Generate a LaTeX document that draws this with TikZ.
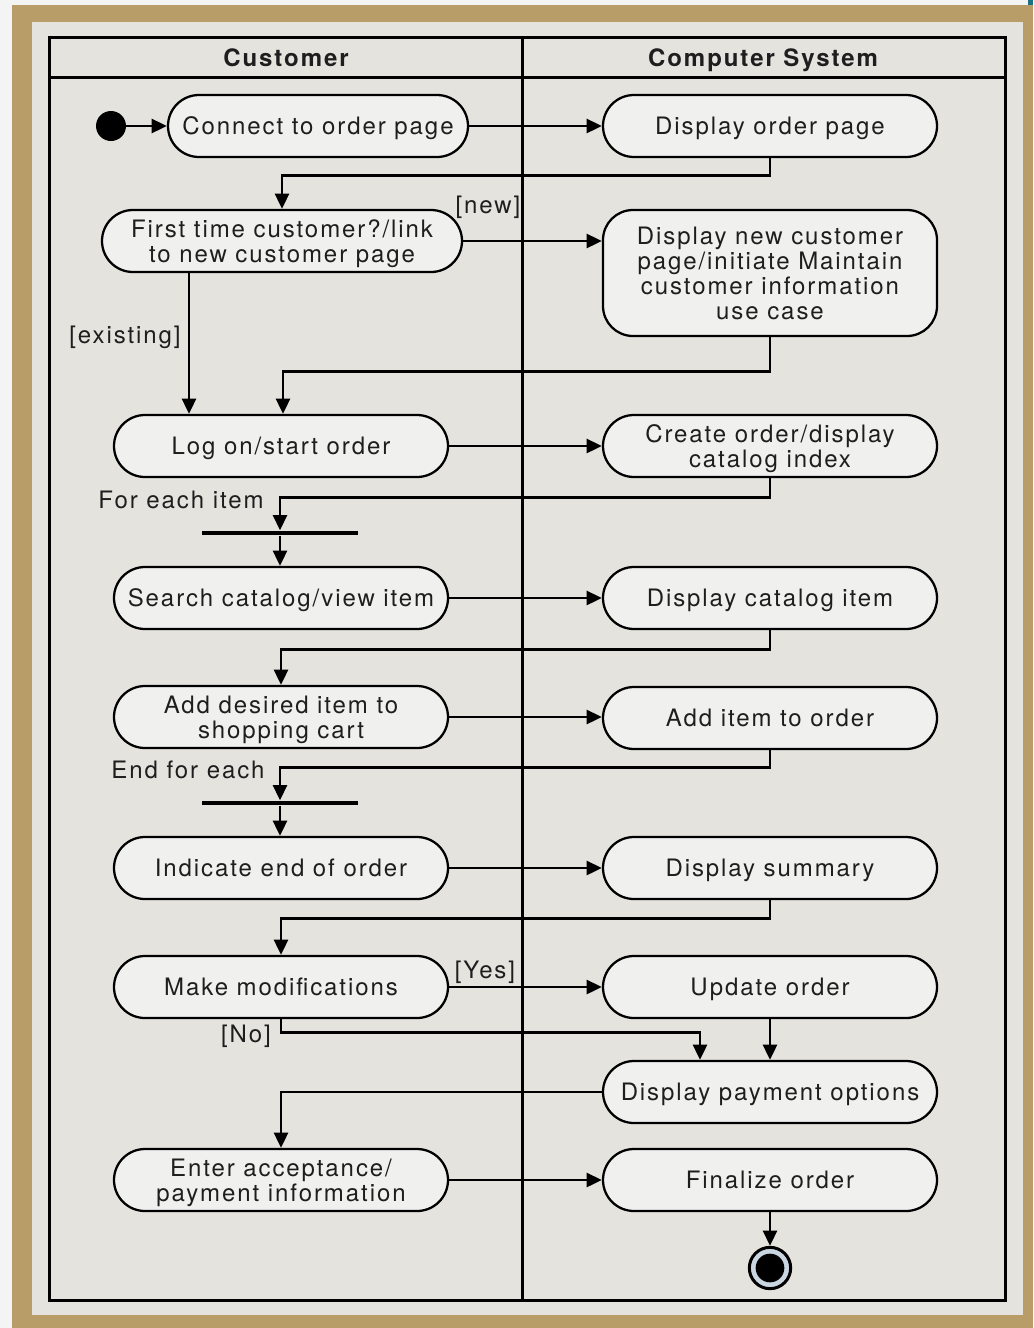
\documentclass[tikz,border=0pt]{standalone}
\usepackage{fontspec}
\setmainfont{TeX Gyre Heros}[LetterSpace=8]
\usetikzlibrary{arrows.meta,calc}

\definecolor{gold}{HTML}{B99D68}
\definecolor{paper}{HTML}{E5E3DE}
\definecolor{boxfill}{HTML}{F0F0EF}
\definecolor{ringblue}{HTML}{C9D6E2}
\definecolor{cornermark}{HTML}{1A6F80}
\definecolor{edgewhite}{HTML}{F4F4F4}
\definecolor{ink}{HTML}{1E1E1E}

\begin{document}
\begin{tikzpicture}[x=0.75pt,y=-0.75pt,
  txt/.style={font=\fontsize{18}{18.75}\selectfont, text=ink, text depth=0pt},
  act/.style={txt, draw, line width=1.7pt, fill=boxfill, rounded corners=23.25pt,
    minimum width=250.5pt, minimum height=46.5pt, align=center, inner sep=0pt},
  tallact/.style={act, minimum height=94.5pt, rounded corners=22.5pt},
  flow/.style={line width=2.2pt, -{Triangle[length=11.5pt,width=10.5pt]}},
  lbl/.style={txt, inner sep=0pt},
  lane/.style={line width=2.25pt},
  bar/.style={fill=black, minimum width=117pt, minimum height=3.6pt, inner sep=0pt},
  head/.style={font=\bfseries\fontsize{18}{18.75}\selectfont, text=ink, text depth=0pt, inner sep=0pt}]

% page, gold mount and swimlane frame
\useasboundingbox (0,0) rectangle (1033,1328);
\fill[edgewhite] (0,0) rectangle (1033,1328);
\fill[gold] (12,5) rectangle (1033,1328);
\fill[paper] (32,22) rectangle (1023,1315);
\fill[cornermark] (1028,0) rectangle (1033,5);
\draw[lane] (49,37) rectangle (1005,1300);
\draw[lane] (49,77) -- (1005,77);
\draw[lane] (522,37) -- (522,1300);

\node[head] (hcust) at (286,58) {Customer};
\node[head] (hsys) at (763,58) {Computer System};

% customer lane
\node[circle, fill=black, minimum size=22.5pt, inner sep=0pt] (start) at (111,126) {};
\node[act, minimum width=225pt] (connect) at (318,126) {Connect to order page};
\node[act, minimum width=270pt] (first) at (282,241) {First time customer?/link\\to new customer page};
\node[act] (logon) at (281,446) {Log on/start order};
\node[bar] (bar1) at (280,533) {};
\node[act] (search) at (281,598) {Search catalog/view item};
\node[act] (adddes) at (281,717) {Add desired item to\\shopping cart};
\node[bar] (bar2) at (280,803) {};
\node[act] (indic) at (281,868) {Indicate end of order};
\node[act] (makemod) at (281,987) {Make modifications};
\node[act] (enter) at (281,1180) {Enter acceptance/\\payment information};

% system lane
\node[act] (dorder) at (770,126) {Display order page};
\node[tallact] (dnew) at (770,273) {Display new customer\\page/initiate Maintain\\customer information\\use case};
\node[act] (corder) at (770,446) {Create order/display\\catalog index};
\node[act] (dcat) at (770,598) {Display catalog item};
\node[act] (additem) at (770,718) {Add item to order};
\node[act] (dsum) at (770,868) {Display summary};
\node[act] (update) at (770,987) {Update order};
\node[act] (dpay) at (770,1092) {Display payment options};
\node[act] (final) at (770,1180) {Finalize order};
\node[circle, draw, line width=2.25pt, fill=ringblue, minimum size=31pt, inner sep=0pt] (end) at (770,1268) {};
\node[circle, fill=black, minimum size=21.5pt, inner sep=0pt] (endcore) at (end.center) {};

% guard and loop labels
\node[lbl] (lnew) at (488,205) {[new]};
\node[lbl] (lexist) at (125,335) {[existing]};
\node[lbl] (lforeach) at (181,500) {For each item};
\node[lbl] (lendeach) at (188,770) {End for each};
\node[lbl] (lyes) at (485,970) {[Yes]};
\node[lbl] (lno) at (246,1034) {[No]};

% helper columns for off-centre connectors
\coordinate (existx) at (189,0);
\coordinate (nox) at (700,0);

% control flow
\draw[flow] (start) -- (connect.west);
\draw[flow] (connect.east) -- (dorder.west);
\draw[flow] (dorder.south) -- ++(0,17) -| (first.north);
\draw[flow] (first.east) -- (first.east -| dnew.west);
\draw[flow] (first.south -| existx) -- (logon.north -| existx);
\draw[flow] (dnew.south) -- ++(0,34) -| ([xshift=1.5pt]logon.north);
\draw[flow] (logon.east) -- (corder.west);
\draw[flow] (corder.south) -- ++(0,19) -| (bar1.north);
\draw[flow] (bar1.south) -- (bar1.south |- search.north);
\draw[flow] (search.east) -- (dcat.west);
\draw[flow] (dcat.south) -- ++(0,19) -| (adddes.north);
\draw[flow] (adddes.east) -- (adddes.east -| additem.west);
\draw[flow] (additem.south) -- ++(0,17) -| (bar2.north);
\draw[flow] (bar2.south) -- (bar2.south |- indic.north);
\draw[flow] (indic.east) -- (dsum.west);
\draw[flow] (dsum.south) -- ++(0,18) -| (makemod.north);
\draw[flow] (makemod.east) -- (update.west);
\draw[flow] (makemod.south) -- ++(0,13) -| (dpay.north -| nox);
\draw[flow] (update.south) -- (dpay.north);
\draw[flow] (dpay.west) -| (enter.north);
\draw[flow] (enter.east) -- (final.west);
\draw[flow] (final.south) -- (end.north);
\end{tikzpicture}
\end{document}
